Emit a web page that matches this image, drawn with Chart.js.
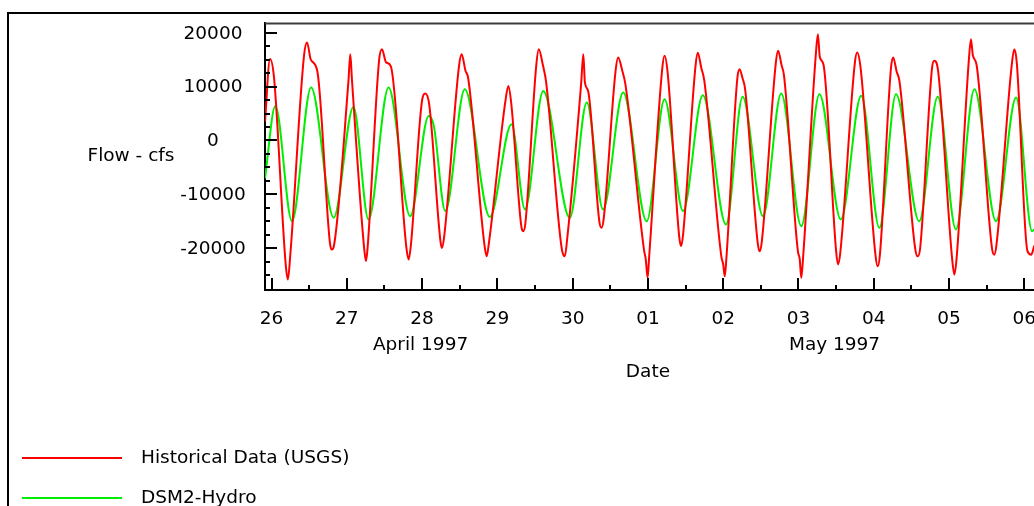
<!DOCTYPE html>
<html>
<head>
<meta charset="utf-8">
<title>Flow - cfs</title>
<script src="https://cdn.jsdelivr.net/npm/chart.js@4.4.1/dist/chart.umd.min.js"></script>
<style>
    html, body { margin: 0; padding: 0; background: #fff; }
    canvas { display: block; }
</style>
</head>
<body>
<canvas id="c_flow_line" width="1034" height="506"></canvas>
<script>
// hours after 26 Apr 1997 00:00
const histHours = [
    -2.1, -0.5, 0.8, 4.5, 5.2, 6.0, 10.3, 11.3, 12.5, 14.6, 18.6, 19.2, 19.9,
    24.5, 25.1, 25.6, 29.6, 30.1, 30.6, 34.3, 35.2, 36.5, 38.0, 43.0, 43.7, 44.4,
    48.0, 49.0, 50.3, 53.8, 54.3, 55.0, 59.8, 60.6, 61.8, 62.7, 67.9, 68.6, 69.3,
    74.6, 75.5, 76.4, 79.6, 80.2, 80.9, 84.4, 85.2, 86.5, 87.5, 92.5, 93.5, 94.3,
    98.7, 99.4, 99.9, 101.0, 104.5, 105.2, 105.9, 109.7, 110.5, 111.8, 112.8, 118.8, 119.3, 119.9, 120.4,
    124.6, 125.3, 126.3, 130.0, 130.6, 131.2, 135.2, 135.9, 137.0, 138.0, 143.4, 144.0, 144.5, 145.0,
    148.5, 149.2, 150.2, 151.0, 155.0, 155.6, 156.3, 160.8, 161.5, 162.6, 163.4, 167.8, 168.4, 168.9, 169.5,
    173.6, 174.2, 174.8, 176.0, 180.0, 180.6, 181.3, 186.0, 186.7, 187.8, 192.6, 193.3, 194.0,
    197.5, 198.2, 199.3, 200.2, 205.2, 206.0, 206.8, 210.6, 211.3, 212.5, 217.0, 217.7, 218.4,
    222.4, 223.0, 223.6, 224.8, 229.7, 230.4, 231.1, 236.0, 236.8, 237.6, 241.0, 242.2, 243.2
]
const histFlow = [
    3500, 15100, 11500, -23000, -25800, -21000, 15500, 18200, 15000, 12800, -19000, -20250, -19500,
    11000, 16000, 11500, -20500, -22400, -20000, 15000, 16950, 14500, 13800, -20000, -22100, -19500,
    7500, 8700, 6500, -18500, -19950, -18000, 14000, 16000, 13000, 11500, -19500, -21500, -19000,
    7500, 10130, 7000, -15800, -16850, -15500, 14000, 16950, 14000, 11000, -20000, -21500, -18000,
    10500, 16000, 10800, 9000, -15000, -16200, -14500, 13000, 15400, 13000, 10500, -20500, -22000, -25500, -21500,
    13500, 15700, 12500, -18000, -19600, -17500, 14000, 16300, 13500, 11000, -21500, -23000, -25200, -22000,
    11500, 13200, 11500, 9500, -19000, -20550, -18800, 14500, 16650, 14000, 12000, -20500, -22000, -25500, -21500,
    16500, 19700, 15500, 14000, -20500, -23000, -21000, 14500, 16330, 13500, -21500, -23350, -21000,
    13500, 15400, 12800, 11000, -20000, -21500, -20000, 13500, 14800, 13000, -22000, -24900, -22000,
    15500, 18800, 15800, 14000, -20000, -21200, -19500, 14000, 16950, 14500, -20500, -21200, -19500
]
const hydroHours = [
    -2.1, 1.2, 6.5, 12.6, 19.8, 26.1, 30.9, 37.3, 44.2, 50.1, 51.7, 55.4,
    61.6, 69.6, 76.5, 80.8, 86.6, 95.1, 100.5, 105.7, 112.1, 119.6,
    125.3, 131.2, 137.5, 144.9, 150.2, 156.7, 162.5, 168.9, 174.7, 181.5,
    188.0, 193.8, 199.1, 206.5, 212.4, 218.2, 224.1, 231.0, 237.4, 242.5, 243.2
]
const hydroFlow = [
    -7000, 6400, -14980, 9820, -14350, 6230, -14670, 9820, -14050, 4550, 2800, -13100,
    9500, -14200, 3000, -12800, 9200, -14350, 7030, -12800, 8900, -15000,
    7650, -13100, 8400, -15600, 8100, -14050, 8700, -15900, 8580, -14670,
    8280, -16200, 8580, -15000, 8100, -16500, 9500, -15000, 7960, -16830, -16500
]

const dayHours = [0, 24, 48, 72, 96, 120, 144, 168, 192, 216, 240]
const dayLabels = ['26', '27', '28', '29', '30', '01', '02', '03', '04', '05', '06']
const halfDayHours = [12, 36, 60, 84, 108, 132, 156, 180, 204, 228]
const monthLabels = ['April 1997', 'May 1997']
const monthHours = [47.5, 179.5]
const flowMajor = [20000, 10000, 0, -10000, -20000]
const flowMajorLabels = ['20000', '10000', '0', '-10000', '-20000']
const flowMinor = [17500, 15000, 12500, 7500, 5000, 2500, -2500, -5000, -7500, -12500, -15000, -17500, -22500, -25000]

const FONT = '18.5px "DejaVu Sans", "Liberation Sans", sans-serif'

// **** frame, ticks, labels and legend
const chartDecor = {
    id: 'chartDecor',
    afterDraw(chart) {
        const ctx = chart.ctx
        const area = chart.chartArea
        const x = chart.scales.x
        const y = chart.scales.y
        ctx.save()

        // outer box
        ctx.strokeStyle = '#000'
        ctx.lineWidth = 2
        ctx.beginPath()
        ctx.moveTo(8, 506)
        ctx.lineTo(8, 13)
        ctx.lineTo(1034, 13)
        ctx.stroke()

        // top of plot
        ctx.strokeStyle = '#3c3c3c'
        ctx.beginPath()
        ctx.moveTo(area.left, area.top + 0.5)
        ctx.lineTo(area.right, area.top + 0.5)
        ctx.stroke()

        // inward ticks
        ctx.strokeStyle = '#000'
        ctx.lineWidth = 2
        ctx.beginPath()
        flowMajor.forEach(v => {
            const py = Math.round(y.getPixelForValue(v))
            ctx.moveTo(area.left, py); ctx.lineTo(area.left + 12, py)
        })
        flowMinor.forEach(v => {
            const py = Math.round(y.getPixelForValue(v))
            ctx.moveTo(area.left, py); ctx.lineTo(area.left + 5, py)
        })
        dayHours.forEach(h => {
            const px = Math.round(x.getPixelForValue(h))
            ctx.moveTo(px, area.bottom); ctx.lineTo(px, area.bottom - 12)
        })
        halfDayHours.forEach(h => {
            const px = Math.round(x.getPixelForValue(h))
            ctx.moveTo(px, area.bottom); ctx.lineTo(px, area.bottom - 5)
        })
        ctx.stroke()

        // tick labels
        ctx.fillStyle = '#000'
        ctx.font = FONT
        ctx.textAlign = 'center'
        ctx.textBaseline = 'middle'
        flowMajor.forEach((v, i) => {
            ctx.fillText(flowMajorLabels[i], 213, y.getPixelForValue(v) + 1)
        })
        dayHours.forEach((h, i) => {
            ctx.fillText(dayLabels[i], x.getPixelForValue(h), area.bottom + 29)
        })
        monthHours.forEach((h, i) => {
            ctx.fillText(monthLabels[i], x.getPixelForValue(h), area.bottom + 55)
        })

        // axis titles
        ctx.fillText('Date', x.getPixelForValue(120), area.bottom + 82)
        ctx.fillText('Flow - cfs', 131, 156)

        // legend
        ctx.textAlign = 'left'
        const rows = [458, 498]
        chart.data.datasets.forEach((ds, i) => {
            ctx.strokeStyle = ds.borderColor
            ctx.lineWidth = 2
            ctx.beginPath()
            ctx.moveTo(22, rows[i]); ctx.lineTo(122, rows[i])
            ctx.stroke()
            ctx.fillText(ds.label, 141, rows[i])
        })
        ctx.restore()
    }
}

var ctx = document.getElementById('c_flow_line').getContext('2d')
new Chart(ctx, {
    type: 'line',
    data: {
        datasets: [{
            label: 'Historical Data (USGS)',
            data: histHours.map((h, i) => ({ x: h, y: histFlow[i] })),
            borderColor: '#ff0000',
            borderWidth: 2,
            pointRadius: 0,
            cubicInterpolationMode: 'monotone',
            fill: false
        }, {
            label: 'DSM2-Hydro',
            data: hydroHours.map((h, i) => ({ x: h, y: hydroFlow[i] })),
            borderColor: '#00ee00',
            borderWidth: 2,
            pointRadius: 0,
            cubicInterpolationMode: 'monotone',
            fill: false
        }]
    },
    options: {
        responsive: false,
        animation: false,
        layout: {
            padding: { left: 265, top: 23, right: 0, bottom: 216 }
        },
        plugins: {
            legend: { display: false },
            tooltip: { enabled: false }
        },
        scales: {
            x: {
                type: 'linear',
                min: -2.1,
                max: 243.1,
                ticks: { display: false },
                grid: { display: false, drawTicks: false },
                border: { display: true, color: '#000', width: 2 }
            },
            y: {
                min: -27750,
                max: 21800,
                ticks: { display: false },
                grid: { display: false, drawTicks: false },
                border: { display: true, color: '#000', width: 2 }
            }
        }
    },
    plugins: [chartDecor]
})
</script>
</body>
</html>
